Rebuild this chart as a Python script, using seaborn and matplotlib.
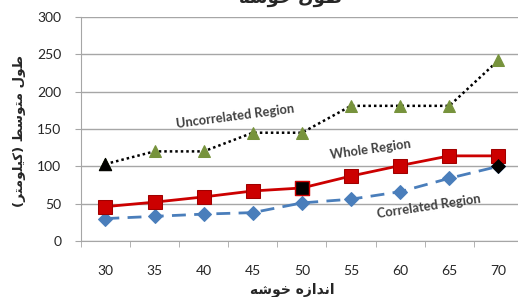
import pandas as pd
import matplotlib
matplotlib.use("Agg")
import matplotlib.pyplot as plt
import seaborn as sns

# cluster size (x) and average length (y) for three regions
sizes = [30, 35, 40, 45, 50, 55, 60, 65, 70]
uncorrelated = [103, 120, 120, 145, 145, 181, 181, 181, 242]
whole = [46, 52, 59, 67, 71, 87, 101, 114, 114]
correlated = [30, 33, 36, 38, 51, 56, 66, 84, 100]
y_ticks = [0, 50, 100, 150, 200, 250, 300]

title_txt = "طول خوشه"
xlabel_txt = "اندازه خوشه"
ylabel_txt = "طول متوسط (کیلومتر)"

# matplotlib has no arabic shaping -> map letters to presentation forms by hand
FORMS = {
    "ا": ("\ufe8d", "\ufe8e", None, None),
    "د": ("\ufea9", "\ufeaa", None, None),
    "ز": ("\ufeaf", "\ufeb0", None, None),
    "ر": ("\ufead", "\ufeae", None, None),
    "و": ("\ufeed", "\ufeee", None, None),
    "ن": ("\ufee5", "\ufee6", "\ufee7", "\ufee8"),
    "ه": ("\ufee9", "\ufeea", "\ufeeb", "\ufeec"),
    "خ": ("\ufea5", "\ufea6", "\ufea7", "\ufea8"),
    "ش": ("\ufeb5", "\ufeb6", "\ufeb7", "\ufeb8"),
    "ط": ("\ufec1", "\ufec2", "\ufec3", "\ufec4"),
    "ل": ("\ufedd", "\ufede", "\ufedf", "\ufee0"),
    "م": ("\ufee1", "\ufee2", "\ufee3", "\ufee4"),
    "ت": ("\ufe95", "\ufe96", "\ufe97", "\ufe98"),
    "س": ("\ufeb1", "\ufeb2", "\ufeb3", "\ufeb4"),
    "ک": ("\ufb8e", "\ufb8f", "\ufb90", "\ufb91"),
    "ی": ("\ufbfc", "\ufbfd", "\ufbfe", "\ufbff"),
}


def shape(s):
    out = []
    for i, c in enumerate(s):
        if c not in FORMS:
            out.append({"(": ")", ")": "("}.get(c, c))
            continue
        f = FORMS[c]
        prev = s[i - 1] if i > 0 else ""
        nxt = s[i + 1] if i + 1 < len(s) else ""
        jp = prev in FORMS and FORMS[prev][2] is not None
        jn = nxt in FORMS and f[2] is not None
        if jp and jn:
            out.append(f[3])
        elif jp:
            out.append(f[1])
        elif jn:
            out.append(f[2])
        else:
            out.append(f[0])
    return "".join(out)[::-1]


df = pd.DataFrame({"size": sizes, "unc": uncorrelated, "whole": whole, "cor": correlated})

sns.set_style("white")
plt.rcParams["font.family"] = ["Lato", "DejaVu Sans"]

fig = plt.figure(figsize=(5.18, 2.97), dpi=100)
ax = fig.add_axes([0.156, 0.1886, 0.8537, 0.7542])

green = "#77933C"
red = "#CC0000"
blue = "#4A7EBB"

sns.lineplot(data=df, x="size", y="unc", ax=ax, color="black", linestyle=(0, (1, 1.2)), lw=1.8,
             marker="^", markersize=9, markerfacecolor=green, markeredgecolor=green, zorder=3)
sns.lineplot(data=df, x="size", y="whole", ax=ax, color=red, linestyle="-", lw=2,
             marker="s", markersize=10, markerfacecolor=red, markeredgecolor="#A00000", zorder=4)
sns.lineplot(data=df, x="size", y="cor", ax=ax, color=blue, linestyle=(0, (5, 3)), lw=2,
             marker="D", markersize=7.5, markerfacecolor=blue, markeredgecolor=blue, zorder=3)

# highlighted (black) points
sns.scatterplot(data=df.iloc[[0]], x="size", y="unc", ax=ax, marker="^", s=80,
                color="black", edgecolor="black", zorder=5)
sns.scatterplot(data=df.iloc[[4]], x="size", y="whole", ax=ax, marker="s", s=100,
                color="black", edgecolor=red, linewidth=1, zorder=5)
sns.scatterplot(data=df.iloc[[8]], x="size", y="cor", ax=ax, marker="D", s=50,
                color="black", edgecolor="black", zorder=5)

ax.set_xlim(27.5, 72.5)
ax.set_ylim(0, 300)
ax.set_xticks(sizes)
ax.set_xticks([s - 2.5 for s in sizes] + [72.5], minor=True)
ax.set_yticks(y_ticks)
ax.yaxis.grid(True, color="#A6A6A6", lw=1)
ax.xaxis.grid(False)
for side in ["top", "right"]:
    ax.spines[side].set_visible(False)
for side in ["left", "bottom"]:
    ax.spines[side].set_color("#A6A6A6")
ax.tick_params(axis="x", which="major", length=0, pad=17, labelsize=10, labelcolor="#262626")
ax.tick_params(axis="x", which="minor", length=4, color="#A6A6A6", direction="out", bottom=True)
ax.tick_params(axis="y", length=4, color="#A6A6A6", direction="out", left=True, pad=10,
               labelsize=10, labelcolor="#262626")

ax.set_xlabel("")
ax.set_ylabel("")
fig.text(0.564, 0.024, shape(xlabel_txt), ha="center", va="center", fontsize=10,
         fontweight="bold", family="DejaVu Sans")
fig.text(0.038, 0.56, shape(ylabel_txt), ha="center", va="center", rotation=90,
         fontsize=9.5, fontweight="bold", family="DejaVu Sans")
# title sits mostly above the figure edge, as in the reference
fig.text(0.56, 0.976, shape(title_txt), ha="center", va="bottom", fontsize=13,
         fontweight="bold", family="DejaVu Sans")

ann = dict(fontsize=9.3, fontweight="bold", color="#404040", ha="center", va="center")
ax.text(43.2, 167, "Uncorrelated Region", rotation=7.5, **ann)
ax.text(57.0, 122, "Whole Region", rotation=8, **ann)
ax.text(62.9, 47, "Correlated Region", rotation=8.5, **ann)

fig.savefig("out.png", dpi=100)
